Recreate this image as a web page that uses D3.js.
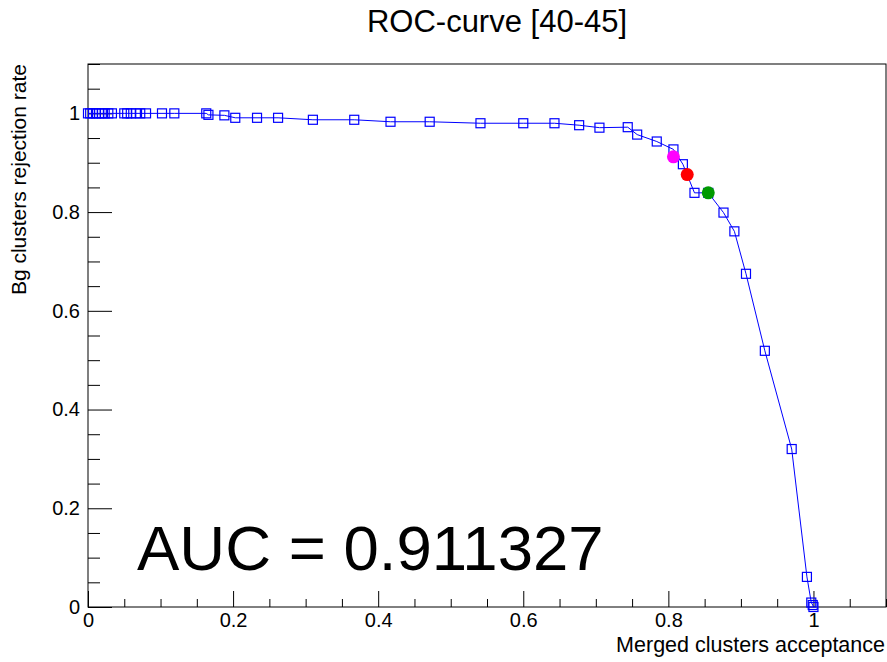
<!DOCTYPE html>
<html>
<head>
<meta charset="utf-8">
<script src="https://cdn.jsdelivr.net/npm/d3@7"></script>
<style>
  body { margin: 0; background: #fff; }
  svg { display: block; font-family: "Liberation Sans", Arial, sans-serif; }
</style>
</head>
<body>
<div id="chart"></div>
<script>
// ROC curve points (acceptance, rejection)
const acceptance = [0, 0.003, 0.007, 0.011, 0.015, 0.019, 0.023, 0.028, 0.033,
  0.050, 0.054, 0.059, 0.066, 0.072, 0.080, 0.102, 0.119, 0.163, 0.166,
  0.188, 0.203, 0.233, 0.262, 0.310, 0.367, 0.417, 0.471, 0.541, 0.600,
  0.643, 0.677, 0.705, 0.744, 0.757, 0.784, 0.807, 0.820, 0.836, 0.855,
  0.876, 0.891, 0.907, 0.933, 0.970, 0.991, 0.997, 0.999, 1.0]
const rejection = [1, 1, 1, 1, 1, 1, 1, 1, 1,
  1, 1, 1, 1, 1, 1, 1, 1, 1, 0.997,
  0.996, 0.991, 0.991, 0.991, 0.987, 0.987, 0.983, 0.983, 0.980, 0.980,
  0.980, 0.976, 0.971, 0.972, 0.957, 0.943, 0.927, 0.897, 0.839, 0.839,
  0.799, 0.761, 0.675, 0.519, 0.320, 0.061, 0.009, 0.004, 0]

// highlighted working points
const wpAcceptance = [0.807, 0.826, 0.855]
const wpRejection = [0.912, 0.876, 0.839]
const wpColors = ['#ff00ff', '#ff0000', '#009a00']

const xMajor = [0, 0.2, 0.4, 0.6, 0.8, 1]
const yMajor = [0, 0.2, 0.4, 0.6, 0.8, 1]
const tickFmt = d => d === 0 || d === 1 ? String(d) : d.toFixed(1)

const title = 'ROC-curve [40-45]'
const xTitle = 'Merged clusters acceptance'
const yTitle = 'Bg clusters rejection rate'
const aucText = 'AUC = 0.911327'

const width = 887
const height = 662
const margin = ({top: 64, right: 1, bottom: 55, left: 88})

const svg = d3.select('#chart').append('svg').attr('width', width).attr('height', height)

const x = d3.scaleLinear()
  .domain([0, 1.1])
  .range([margin.left, width - margin.right])

const y = d3.scaleLinear()
  .domain([0, 1.1])
  .range([height - margin.bottom, margin.top])

const xMinor = d3.range(0, 1.1001, 0.05).filter(v => !xMajor.some(m => Math.abs(m - v) < 1e-6))
const yMinor = d3.range(0, 1.1001, 0.05).filter(v => !yMajor.some(m => Math.abs(m - v) < 1e-6))

// X axis (ticks point inside the frame)
const xAxisG = svg.append('g')
  .attr('transform', `translate(0,${height - margin.bottom})`)
xAxisG.append('g')
  .call(d3.axisBottom(x).tickValues(xMajor).tickSize(-16).tickPadding(6).tickFormat(tickFmt))
xAxisG.append('g')
  .call(d3.axisBottom(x).tickValues(xMinor).tickSize(-8).tickFormat(''))

// Y axis
const yAxisG = svg.append('g')
  .attr('transform', `translate(${margin.left},0)`)
yAxisG.append('g')
  .call(d3.axisLeft(y).tickValues(yMajor).tickSize(-24).tickPadding(8).tickFormat(tickFmt))
yAxisG.append('g')
  .call(d3.axisLeft(y).tickValues(yMinor).tickSize(-12).tickFormat(''))

svg.selectAll('.domain').remove()
svg.selectAll('.tick line').attr('stroke', '#000')
svg.selectAll('.tick text')
  .attr('fill', '#000')
  .attr('font-size', 20)
  .attr('font-family', '"Liberation Sans", Arial, sans-serif')

// frame
svg.append('rect')
  .attr('x', margin.left)
  .attr('y', margin.top)
  .attr('width', width - margin.left - margin.right)
  .attr('height', height - margin.top - margin.bottom)
  .attr('fill', 'none')
  .attr('stroke', '#000')
  .attr('stroke-width', 1)

const points = acceptance.map((a, i) => ({a, r: rejection[i]}))

// curve
svg.append('path')
  .datum(points)
  .attr('fill', 'none')
  .attr('stroke', '#0000ff')
  .attr('stroke-width', 1)
  .attr('d', d3.line().x(d => x(d.a)).y(d => y(d.r)))

// open square markers
const sq = 9
svg.append('g')
    .attr('fill', 'none')
    .attr('stroke', '#0000ff')
    .attr('stroke-width', 1.2)
  .selectAll('rect')
  .data(points)
  .enter().append('rect')
    .attr('x', d => x(d.a) - sq / 2)
    .attr('y', d => y(d.r) - sq / 2)
    .attr('width', sq)
    .attr('height', sq)

// working point markers
svg.append('g')
  .selectAll('circle')
  .data(wpAcceptance.map((a, i) => ({a, r: wpRejection[i], c: wpColors[i]})))
  .enter().append('circle')
    .attr('cx', d => x(d.a))
    .attr('cy', d => y(d.r))
    .attr('r', 6.5)
    .attr('fill', d => d.c)

// texts
svg.append('text')
  .attr('x', 497)
  .attr('y', 32)
  .attr('text-anchor', 'middle')
  .attr('font-size', 31)
  .text(title)

svg.append('text')
  .attr('x', width - 2)
  .attr('y', 652)
  .attr('text-anchor', 'end')
  .attr('font-size', 21.5)
  .text(xTitle)

svg.append('text')
  .attr('transform', `translate(26,${margin.top}) rotate(-90)`)
  .attr('text-anchor', 'end')
  .attr('font-size', 21)
  .text(yTitle)

svg.append('text')
  .attr('x', 137)
  .attr('y', 570)
  .attr('font-size', 63.5)
  .text(aucText)
</script>
</body>
</html>
